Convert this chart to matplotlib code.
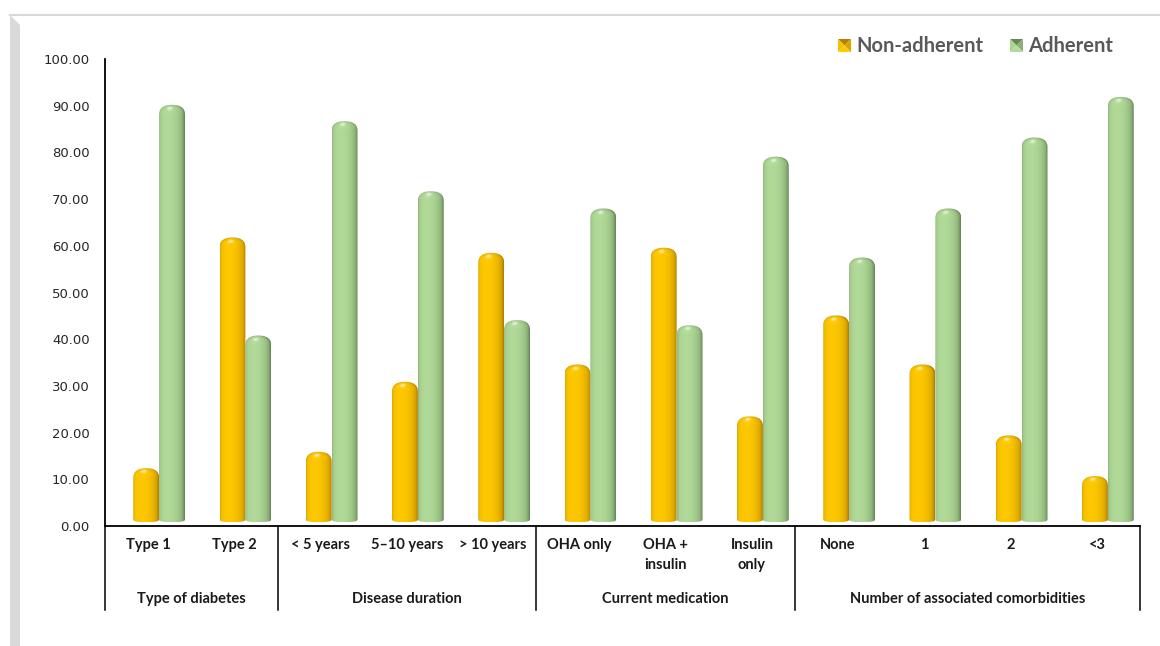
import numpy as np
import matplotlib
matplotlib.use('Agg')
import matplotlib.pyplot as plt
from matplotlib.path import Path
from matplotlib.patches import PathPatch, Polygon
from matplotlib.transforms import ScaledTranslation
from matplotlib.lines import Line2D

# Datos del gráfico
categories = ['Type 1', 'Type 2', '< 5 years', '5–10 years', '> 10 years',
              'OHA only', 'OHA +\ninsulin', 'Insulin\nonly',
              'None', '1', '2', '<3']
groups = ['Type of diabetes', 'Disease duration', 'Current medication',
          'Number of associated comorbidities']
group_sizes = [2, 3, 3, 4]
non_adherent = [11.1, 60.5, 14.6, 29.6, 57.2, 33.3, 58.3, 22.2, 43.8, 33.3, 18.1, 9.4]
adherent = [88.9, 39.5, 85.4, 70.4, 42.8, 66.7, 41.7, 77.8, 56.2, 66.7, 81.9, 90.6]
series_names = ['Non-adherent', 'Adherent']
yticks = np.arange(0, 101, 10)

W, H, DPI = 1160, 646, 100
fig = plt.figure(figsize=(W / DPI, H / DPI), dpi=DPI)
fig.patch.set_facecolor('white')

def fx(x):
    return x / W

def fy(y):
    return 1 - y / H

ax = fig.add_axes([fx(105), fy(526), fx(1140) - fx(105), fy(59) - fy(526)])
ax.set_facecolor('none')

# colores (claro, oscuro) de cada serie
colors = [(np.array([1.00, 0.79, 0.00]), np.array([0.70, 0.50, 0.00])),
          (np.array([0.70, 0.86, 0.60]), np.array([0.40, 0.53, 0.34]))]

L = np.array([-0.35, 0.30, 1.0]); L /= np.linalg.norm(L)
Hs = np.array([-0.18, 0.62, 0.78]); Hs /= np.linalg.norm(Hs)

def shade(U, Wc, light, dark):
    nz = np.sqrt(np.clip(1 - U**2 - Wc**2, 0, 1))
    n = np.stack([U, Wc, nz], -1)
    n /= np.linalg.norm(n, axis=-1, keepdims=True) + 1e-9
    diff = np.clip(n @ L, 0, 1)
    spec = np.clip(n @ Hs, 0, 1) ** 45
    t = diff ** 0.6
    rgb = dark + (light - dark) * t[..., None]
    rgb = rgb + (1 - rgb) * (0.75 * spec)[..., None]
    return np.clip(rgb, 0, 1)

# desplazamiento de profundidad (efecto 3D)
depth = ScaledTranslation(11 / DPI, 6 / DPI, fig.dpi_scale_trans)
trans = ax.transData + depth

bar_w = 0.30
cap_h = 2.1
foot = 0.5

def cylinder(xc, value, light, dark, z):
    hw = bar_w / 2
    ny = max(60, int(value * 6))
    ys = np.linspace(-foot, value, ny)
    us = np.linspace(-1, 1, 60)
    U, Y = np.meshgrid(us, ys)
    Wc = np.clip((Y - (value - cap_h)) / cap_h, 0, 1)
    img = shade(U, Wc, light, dark)
    im = ax.imshow(img, extent=[xc - hw, xc + hw, -foot, value], origin='lower',
                   aspect='auto', interpolation='bilinear', transform=trans, zorder=z)
    # contorno: base elíptica, lados y tapa redondeada
    uu = np.linspace(-1, 1, 30)
    bottom = np.column_stack([xc + hw * uu, -foot * np.sqrt(1 - uu**2)])
    th = np.linspace(0, np.pi, 40)
    c, s = np.cos(th), np.sin(th)
    e = 2.0 / 2.4
    cap = np.column_stack([xc + hw * np.sign(c) * np.abs(c) ** e,
                           value - cap_h + cap_h * np.abs(s) ** e])
    verts = np.vstack([bottom, cap, bottom[:1]])
    patch = PathPatch(Path(verts), transform=trans)
    im.set_clip_path(patch)

x = np.arange(len(categories))
for i in range(len(categories)):
    cylinder(x[i] - bar_w / 2, non_adherent[i], *colors[0], z=2)
    cylinder(x[i] + bar_w / 2, adherent[i], *colors[1], z=3)

ax.set_xlim(-0.5, len(categories) - 0.5)
ax.set_ylim(0, 100)
ax.set_yticks(yticks)
ax.set_yticklabels([f'{v:.2f}' for v in yticks], fontsize=9.5, color='#262626')
ax.tick_params(axis='y', length=0, pad=11)
ax.set_xticks([])
for side in ['top', 'right']:
    ax.spines[side].set_visible(False)
ax.spines['left'].set_linewidth(1.3)
ax.spines['bottom'].set_linewidth(1.3)

# etiquetas de categorías y grupos
xt = ax.get_xaxis_transform()
for i, lab in enumerate(categories):
    ax.text(x[i], -0.026, lab, transform=xt, ha='center', va='top', fontsize=10.5,
            fontweight='bold', family='Lato', linespacing=1.55, color='#1a1a1a')

edges = np.concatenate([[0], np.cumsum(group_sizes)]) - 0.5
for k, g in enumerate(groups):
    mid = (edges[k] + edges[k + 1]) / 2
    ax.text(mid, -0.157, g, transform=xt, ha='center', va='center', fontsize=10.5,
            fontweight='bold', family='Lato', color='#1a1a1a')
for e in edges:
    ax.add_line(Line2D([e, e], [0, -0.18], transform=xt, color='black', lw=1.1,
                       clip_on=False))

# marco del área del gráfico
fig.add_artist(Polygon([(fx(10), fy(15)), (fx(20), fy(25)), (fx(20), fy(646)), (fx(10), fy(646))],
                       closed=True, transform=fig.transFigure, facecolor='#d9d9d9', edgecolor='none'))
fig.add_artist(Line2D([fx(10), fx(1160)], [fy(15), fy(15)], transform=fig.transFigure,
                      color='#d9d9d9', lw=1.5))

# leyenda con marcadores piramidales
def legend_marker(x0, y0, size, light, dark):
    x1, y1 = x0 + size, y0 + size
    cx, cy = (x0 + x1) / 2, (y0 + y1) / 2
    mid = (light + dark) / 2
    tris = [([(x0, y0), (x1, y0), (cx, cy)], dark),
            ([(x1, y0), (x1, y1), (cx, cy)], mid),
            ([(x1, y1), (x0, y1), (cx, cy)], light),
            ([(x0, y1), (x0, y0), (cx, cy)], light * 0.9 + dark * 0.1)]
    for pts, col in tris:
        fig.add_artist(Polygon([(fx(px), fy(py)) for px, py in pts], closed=True,
                               transform=fig.transFigure, facecolor=col, edgecolor='none'))

legend_marker(838, 39, 13, *colors[0])
fig.text(fx(856), fy(46), series_names[0], fontsize=14.5, fontweight='bold', family='Lato',
         color='#595959', va='center', ha='left')
legend_marker(1010, 39, 13, *colors[1])
fig.text(fx(1028), fy(46), series_names[1], fontsize=14.5, fontweight='bold', family='Lato',
         color='#595959', va='center', ha='left')

fig.savefig('out.png', dpi=DPI)
